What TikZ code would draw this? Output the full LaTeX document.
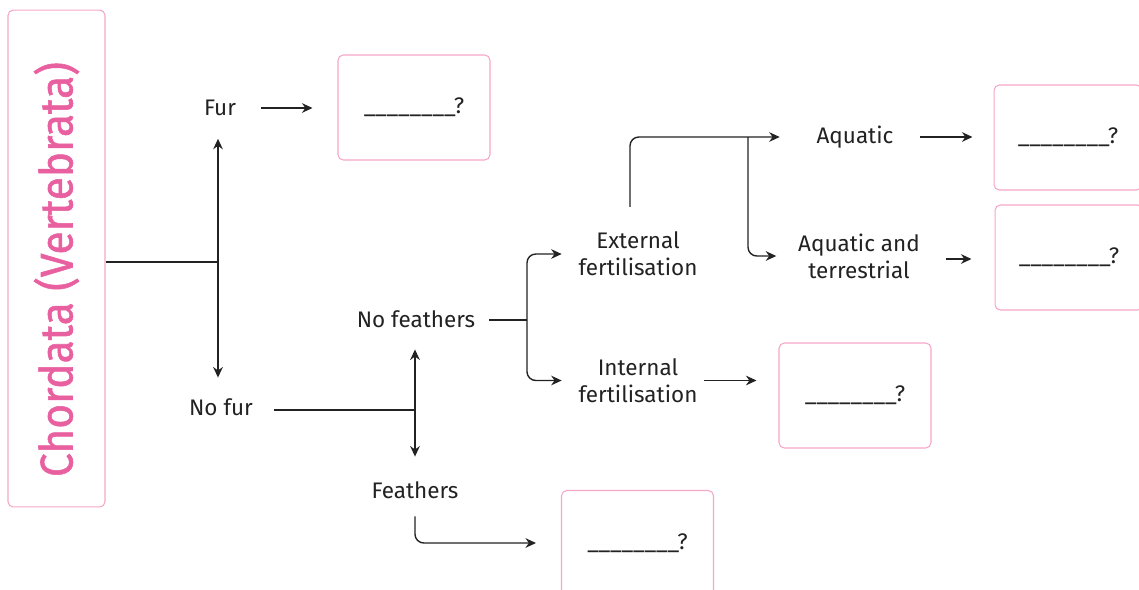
\documentclass[tikz,border=0pt]{standalone}
\usepackage{fontspec}
\setmainfont{Fira Sans}
\usetikzlibrary{arrows.meta}
\definecolor{chordpink}{HTML}{E8609F} % title text
\definecolor{boxpink}{HTML}{F5A6C8}   % box outlines
\definecolor{inkgray}{HTML}{222222}
\newcommand{\blankans}{\_\_\_\_\_\_\_\_?}

\begin{document}
\begin{tikzpicture}[
    x=0.02cm, y=-0.02cm,
    txt/.style={font=\fontsize{12.8}{15.5}\selectfont, text=inkgray, align=center, inner sep=2pt},
    ansbox/.style={draw=boxpink, line width=0.6pt, rounded corners=3pt, minimum width=3.04cm, minimum height=2.1cm, font=\fontsize{12.8}{15.5}\selectfont, text=inkgray},
    arrow/.style={-{Stealth[length=6pt, width=5.5pt]}, line width=0.8pt, draw=inkgray},
    link/.style={line width=0.8pt, draw=inkgray}
  ]
    \useasboundingbox (0,0) rectangle (1139,589);

    \node[ansbox, minimum width=1.94cm, minimum height=9.94cm, text=chordpink, font=\fontsize{26}{30}\selectfont\addfontfeature{FakeStretch=0.93, FakeBold=1.2}] (chordata) at (56.5,258.5) {\rotatebox{90}{Chordata (Vertebrata)\hspace{0.44cm}}};

    \node[txt] (fur) at (220,108) {Fur};
    \node[txt] (nofur) at (221,407) {No fur};
    \node[txt] (nofeath) at (416,319) {No feathers};
    \node[txt] (feath) at (415,490) {Feathers};
    \node[txt] (extfert) at (638,254) {External\\fertilisation};
    \node[txt] (intfert) at (638,380.5) {Internal\\fertilisation};
    \node[txt] (aquatic) at (855,137) {Aquatic};
    \node[txt] (aqterr) at (859,256) {Aquatic and\\terrestrial};

    \node[ansbox] (ansfur) at (414,107.5) {\blankans};
    \node[ansbox, minimum width=2.96cm] (ansaq) at (1068,137.5) {\blankans};
    \node[ansbox, minimum width=2.96cm] (ansaqt) at (1069,257.5) {\blankans};
    \node[ansbox] (ansint) at (855,395.5) {\blankans};
    \node[ansbox] (ansfeath) at (637.5,543) {\blankans};

    \coordinate (furjoin) at (218,262);
    \coordinate (featherjoin) at (415,410);
    \coordinate (fertjoin) at (527,320);
    \coordinate (aqjoin) at (748,137);

    \draw[link] (chordata.east |- furjoin) -- (furjoin);
    \draw[arrow, shorten >=0.38cm] (furjoin) -- (furjoin |- fur.south);
    \draw[arrow, shorten >=0.34cm] (furjoin) -- (furjoin |- nofur.north);
    \draw[arrow, shorten <=0.42cm, shorten >=0.5cm] (fur.east) -- (ansfur.west |- fur.east);

    \draw[link, shorten <=0.34cm] (nofur.east |- featherjoin) -- (featherjoin);
    \draw[arrow, shorten >=0.36cm] (featherjoin) -- (featherjoin |- nofeath.south);
    \draw[arrow, shorten >=0.42cm] (featherjoin) -- (featherjoin |- feath.north);
    \draw[arrow, rounded corners=5pt, shorten <=0.28cm, shorten >=0.5cm] (feath.south) |- (ansfeath.west);

    \draw[link, shorten <=0.2cm] (nofeath.east |- fertjoin) -- (fertjoin);
    \draw[arrow, rounded corners=5pt, shorten >=0.26cm] (fertjoin) |- (extfert.west);
    \draw[arrow, rounded corners=5pt, shorten >=0.26cm] (fertjoin) |- (intfert.west);
    \draw[arrow, shorten <=0.06cm, shorten >=0.44cm] (intfert.east) -- (ansint.west |- intfert.east);

    \draw[arrow, rounded corners=5pt, shorten <=0.42cm, shorten >=0.66cm] ([xshift=-0.16cm]extfert.north) |- (aquatic.west);
    \draw[arrow, rounded corners=5pt, shorten >=0.36cm] (aqjoin) |- (aqterr.west);
    \draw[arrow, shorten <=0.46cm, shorten >=0.42cm] (aquatic.east) -- (ansaq.west |- aquatic.east);
    \draw[arrow, shorten <=0.44cm, shorten >=0.46cm] (aqterr.east |- 0,259) -- (ansaqt.west |- 0,259);

\end{tikzpicture}
\end{document}
